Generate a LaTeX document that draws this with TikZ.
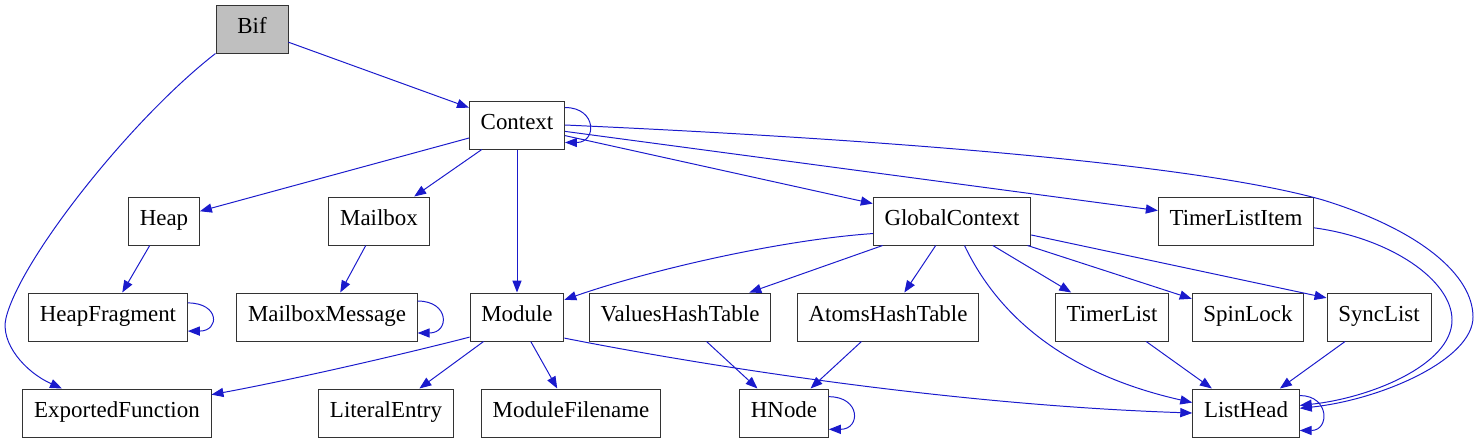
\documentclass[tikz,border=0pt]{standalone}
\usepackage{fontspec}
\setmainfont{Liberation Serif}
\usetikzlibrary{arrows.meta}
\definecolor{edgeblue}{RGB}{26,26,204}
\definecolor{bifgray}{RGB}{191,191,191}

\begin{document}
\begin{tikzpicture}[x=0.025cm,y=-0.025cm,line width=0.7pt,
  >={Triangle[length=8.5pt,width=6.5pt]},
  cls/.style={draw=black!80,rectangle,minimum height=1.2cm,inner xsep=8pt,
    text height=1.75ex,text depth=0.3ex,
    font=\fontsize{16.3}{18}\selectfont},
  dep/.style={->,draw=edgeblue,fill=none}]
\useasboundingbox (0,0) rectangle (1480,443);
% ---------- top rows ----------
\node[cls,fill=bifgray,minimum width=1.8cm] (bif) at (252,29) {Bif};
\node[cls] (ctx) at (517,125) {Context};
\node[cls] (heap) at (164,221) {Heap};
\node[cls] (mbox) at (379,221) {Mailbox};
\node[cls] (gctx) at (952,221) {GlobalContext};
\node[cls] (tli) at (1236,221) {TimerListItem};
% ---------- middle row ----------
\node[cls] (hfrag) at (108,317) {HeapFragment};
\node[cls] (mmsg) at (327,317) {MailboxMessage};
\node[cls] (mod) at (517,317) {Module};
\node[cls] (vht) at (680,317) {ValuesHashTable};
\node[cls] (aht) at (888,317) {AtomsHashTable};
\node[cls] (tl) at (1112,317) {TimerList};
\node[cls] (spin) at (1248,317) {SpinLock};
\node[cls] (sync) at (1379,317) {SyncList};
% ---------- bottom row ----------
\node[cls] (expf) at (117,413) {ExportedFunction};
\node[cls] (lit) at (386,413) {LiteralEntry};
\node[cls] (modf) at (571,413) {ModuleFilename};
\node[cls] (hn) at (784,413) {HNode};
\node[cls] (lh) at (1246,413) {ListHead};
% ---------- Bif ----------
\draw[dep] (bif) -- (ctx);
\draw[dep] (bif.south west) .. controls (130,120) and (20,260) .. (6,318)
  .. controls (0,343) and (25,372) .. (expf.156);
% ---------- Context ----------
\draw[dep] (ctx.20) .. controls +(32,0) and +(32,0) .. (ctx.-20);
\draw[dep] (ctx) -- (heap);
\draw[dep] (ctx) -- (mbox);
\draw[dep] (ctx) -- (mod);
\draw[dep] (ctx) -- (gctx);
\draw[dep] (ctx) -- (tli);
\draw[dep] (ctx.east) .. controls (900,140) and (1200,165) .. (1323,200)
  .. controls (1420,230) and (1473,275) .. (1473,317)
  .. controls (1473,360) and (1380,400) .. (lh.5);
% ---------- Heap, Mailbox ----------
\draw[dep] (heap) -- (hfrag);
\draw[dep] (hfrag.10) .. controls +(32,0) and +(32,0) .. (hfrag.-10);
\draw[dep] (mbox) -- (mmsg);
\draw[dep] (mmsg.10) .. controls +(32,0) and +(32,0) .. (mmsg.-10);
% ---------- GlobalContext ----------
\draw[dep] (gctx.189) .. controls (780,240) and (650,270) .. (mod.20);
\draw[dep] (gctx) -- (vht);
\draw[dep] (gctx) -- (aht);
\draw[dep] (gctx.-63) .. controls (1000,320) and (1070,375) .. (lh.169);
\draw[dep] (gctx) -- (tl);
\draw[dep] (gctx) -- (spin);
\draw[dep] (gctx.-10) -- (sync.160);
% ---------- TimerListItem ----------
\draw[dep] (tli.-5) .. controls (1390,238) and (1452,280) .. (1452,320)
  .. controls (1452,365) and (1370,398) .. (lh.8);
% ---------- Module ----------
\draw[dep] (mod.203) .. controls (380,360) and (280,382) .. (expf.11);
\draw[dep] (mod) -- (lit);
\draw[dep] (mod) -- (modf);
\draw[dep] (mod.-24) .. controls (700,365) and (950,405) .. (lh.west);
% ---------- hash tables, lists ----------
\draw[dep] (vht) -- (hn);
\draw[dep] (aht) -- (hn);
\draw[dep] (hn.20) .. controls +(32,0) and +(32,0) .. (hn.-20);
\draw[dep] (tl) -- (lh);
\draw[dep] (sync) -- (lh);
\draw[dep] (lh.18) .. controls +(30,0) and +(30,0) .. (lh.-18);
\end{tikzpicture}
\end{document}
